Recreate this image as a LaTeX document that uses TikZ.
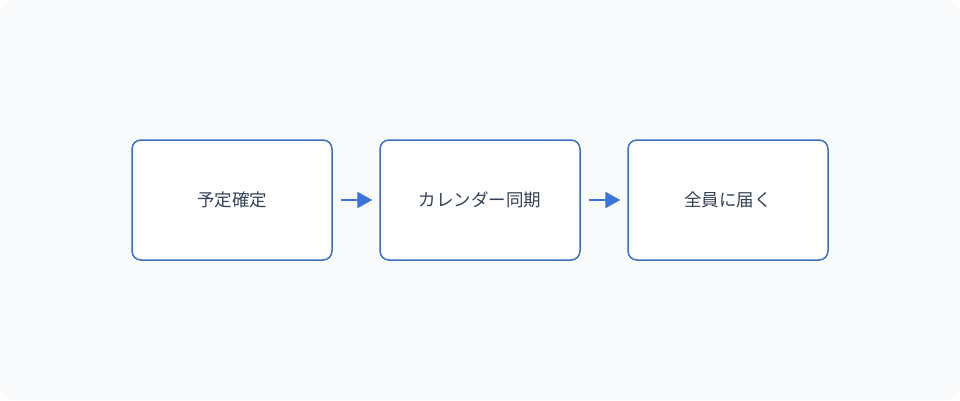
\documentclass[tikz,border=0pt]{standalone}
\usepackage{fontspec}
\newfontfamily\cjk{Noto Sans CJK JP}
\usetikzlibrary{arrows.meta}
\definecolor{bg}{HTML}{F8FAFC}
\definecolor{bd}{HTML}{3D6FC4}
\definecolor{ar}{HTML}{3B73D9}
\definecolor{tx}{HTML}{334155}
\tikzset{stepbox/.style={draw=bd,line width=1.5pt,rounded corners=9pt,fill=white,minimum width=200pt,minimum height=120pt,font=\cjk\fontsize{17.5pt}{21pt}\selectfont,text=tx},
conn/.style={draw=ar,line width=2.5pt,-{Triangle[length=15pt,width=16pt]}}}
\begin{document}
\begin{tikzpicture}[x=1pt,y=-1pt]
\useasboundingbox (0,0) rectangle (960,400);
\fill[bg,rounded corners=16pt] (0,0) rectangle (960,400);
\node[stepbox] (a) at (232,200) {予定確定};
\node[stepbox] (b) at (480,200) {カレンダー同期};
\node[stepbox] (c) at (728,200) {全員に届く};
\draw[conn] ([xshift=8pt]a.east) -- ([xshift=-7pt]b.west);
\draw[conn] ([xshift=8pt]b.east) -- ([xshift=-7pt]c.west);
\end{tikzpicture}
\end{document}
